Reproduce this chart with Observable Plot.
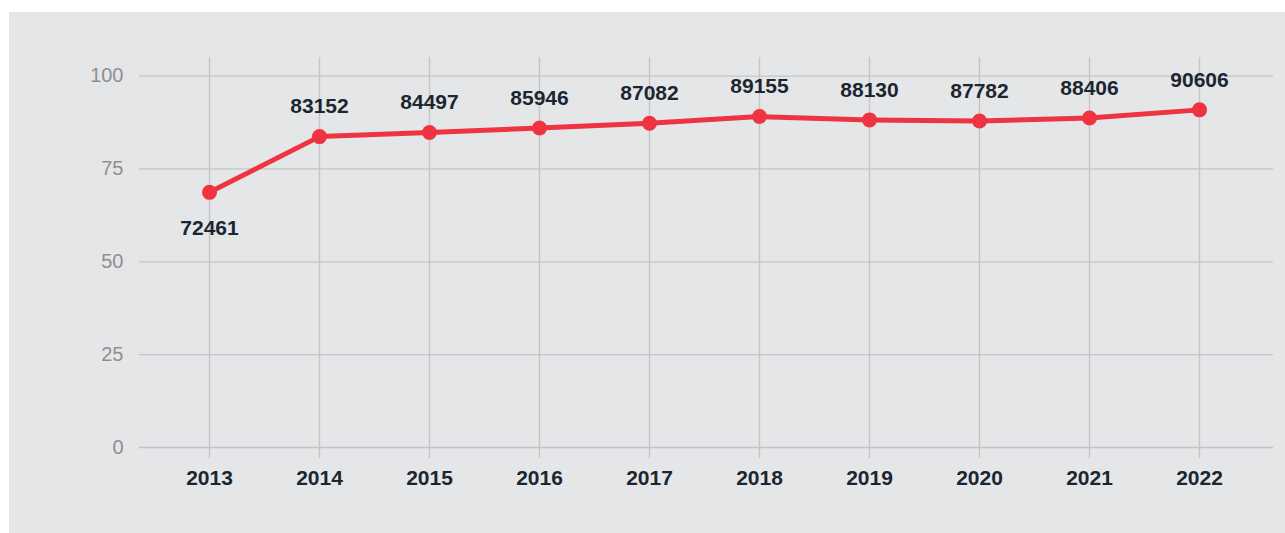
<!DOCTYPE html>
<html>
<head>
<meta charset="utf-8">
<script src="https://cdn.jsdelivr.net/npm/d3@7"></script>
<script src="https://cdn.jsdelivr.net/npm/@observablehq/plot@0.6"></script>
<style>
  html, body { margin: 0; padding: 0; background: #ffffff; }
  #panel {
    position: absolute; left: 9px; top: 12px;
    width: 1276px; height: 521px;
    background: #e5e6e8;
  }
  #panel svg { display: block; }
</style>
</head>
<body>
<div id="panel"></div>
<script>
const years = ["2013","2014","2015","2016","2017","2018","2019","2020","2021","2022"];
const values = [68.7, 83.7, 84.8, 86.0, 87.3, 89.1, 88.2, 87.9, 88.7, 90.9];
const labels = ["72461","83152","84497","85946","87082","89155","88130","87782","88406","90606"];
const labelPlacement = ["below","above","above","above","above","above","above","above","above","above"];
const yTicks = [0, 25, 50, 75, 100];

const data = years.map((y, i) => ({year: y, value: values[i], label: labels[i], place: labelPlacement[i]}));

const red = "#ef3340";
const dark = "#1b2631";
const gridColor = "#c3c4c6";

const chart = Plot.plot({
  width: 1276,
  height: 521,
  marginLeft: 130,
  marginRight: 12,
  marginTop: 45,
  marginBottom: 86,
  style: {background: "transparent", fontFamily: "'Liberation Sans', Arial, sans-serif"},
  x: {type: "point", domain: years, padding: 0.6545, align: 0.486, label: null},
  y: {domain: [0, 105], label: null},
  marks: [
    Plot.gridY(yTicks, {stroke: gridColor, strokeOpacity: 1, strokeWidth: 1.3}),
    Plot.gridX(years, {stroke: gridColor, strokeOpacity: 1, strokeWidth: 1.3}),
    Plot.axisY(yTicks, {tickSize: 0, tickPadding: 16, fontSize: 20, fill: "#8e8f91", label: null}),
    Plot.axisX(years, {tickSize: 11, tickPadding: 12, stroke: gridColor, strokeWidth: 1.3, fontSize: 21, fontWeight: "bold", fill: dark, label: null}),
    Plot.line(data, {x: "year", y: "value", stroke: red, strokeWidth: 5, curve: "linear"}),
    Plot.dot(data, {x: "year", y: "value", r: 7.5, fill: red, stroke: "none"}),
    Plot.text(data.filter(d => d.place === "above"), {x: "year", y: "value", text: "label", dy: -30, fontSize: 21, fontWeight: "bold", fill: dark}),
    Plot.text(data.filter(d => d.place === "below"), {x: "year", y: "value", text: "label", dy: 36, fontSize: 21, fontWeight: "bold", fill: dark})
  ]
});
document.getElementById("panel").appendChild(chart);
</script>
</body>
</html>
